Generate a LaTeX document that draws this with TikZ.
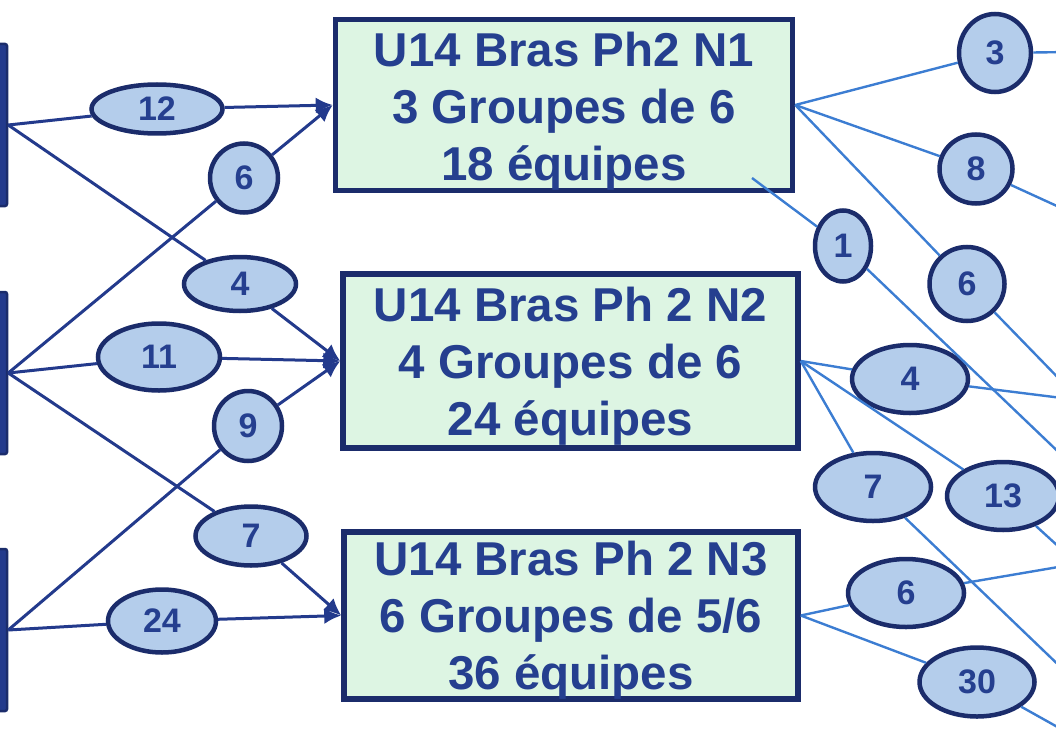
\documentclass[tikz,border=0pt]{standalone}
\usepackage{fontspec}
\setmainfont{Liberation Sans}
\usepackage{tikz}
\usepackage{xcolor}
\usetikzlibrary{shapes,arrows.meta}
\definecolor{navy}{RGB}{27,44,107}
\definecolor{ink}{RGB}{37,63,143}
\definecolor{boxgreen}{RGB}{221,245,227}
\definecolor{bubble}{RGB}{180,205,235}
\definecolor{feedblue}{RGB}{35,58,140}
\definecolor{splitblue}{RGB}{60,125,210}
\tikzstyle{block} = [rectangle, draw=navy, line width=5.5pt, fill=boxgreen,
text=ink, align=center, inner sep=0pt, font=\bfseries\fontsize{47.5}{57}\selectfont]
\tikzstyle{count} = [ellipse, draw=navy, line width=4.5pt, fill=bubble,
text=ink, inner sep=0pt, font=\bfseries\fontsize{34}{34}\selectfont]
\tikzstyle{source} = [rectangle, draw=navy, line width=2.5pt, fill=feedblue,
rounded corners=2pt, minimum width=9pt, minimum height=162pt]
\tikzstyle{feed} = [draw=feedblue, line width=3pt]
\tikzstyle{line} = [draw=feedblue, line width=3pt, -{Latex[length=17pt,width=16pt]}]
\tikzstyle{split} = [draw=splitblue, line width=2.4pt]

\begin{document}
\begin{tikzpicture}[x=1pt, y=-1pt]
        \path [use as bounding box] (0,0) rectangle (1056,738);
        \clip (0,0) rectangle (1056,738);

        \node [source] (srca) at (2.5,125) {};
        \node [source] (srcb) at (2.5,373) {};
        \node [source] (srcc) at (2.5,630) {};

        \node [block, minimum width=457pt, minimum height=163pt] (n1) at (564,105) {\rule{0pt}{47pt}U14 Bras Ph2 N1\\3 Groupes de 6\\18 équipes};
        \node [block, minimum width=455pt, minimum height=174pt] (n2) at (570.5,361) {\rule{0pt}{45pt}U14 Bras Ph 2 N2\\4 Groupes de 6\\24 équipes};
        \node [block, minimum width=454pt, minimum height=165pt] (n3) at (571,615.5) {\rule{0pt}{43pt}U14 Bras Ph 2 N3\\6 Groupes de 5/6\\36 équipes};

        % left side
        \node [count, minimum width=131pt, minimum height=49pt] (qa12) at (157,109) {12};
        \node [count, minimum width=68pt, minimum height=69pt] (qa6) at (244,178) {6};
        \node [count, minimum width=112pt, minimum height=54pt] (qa4) at (240,284) {4};
        \node [count, minimum width=122pt, minimum height=67pt] (qa11) at (159,357) {11};
        \node [count, minimum width=68pt, minimum height=70pt] (qa9) at (248,426) {9};
        \node [count, minimum width=111pt, minimum height=59pt] (qa7) at (251,536) {7};
        \node [count, minimum width=108pt, minimum height=63pt] (qa24) at (162,621) {24};

        % right side
        \node [count, minimum width=72pt, minimum height=78pt] (qb3) at (995,53) {3};
        \node [count, minimum width=73pt, minimum height=69pt] (qb8) at (976,169) {8};
        \node [count, minimum width=56pt, minimum height=71pt] (qb1) at (843,246) {1};
        \node [count, minimum width=75pt, minimum height=74pt] (qb6) at (967,284) {6};
        \node [count, minimum width=116pt, minimum height=68pt] (qb4) at (910,379) {4};
        \node [count, minimum width=116pt, minimum height=68pt] (qb7) at (873,487) {7};
        \node [count, minimum width=112pt, minimum height=68pt] (qb13) at (1003,496) {13};
        \node [count, minimum width=116pt, minimum height=68pt] (qbb6) at (906,593) {6};
        \node [count, minimum width=115pt, minimum height=69pt] (qb30) at (977,682) {30};

        \coordinate (n1in) at (752,178);
        \coordinate (o3) at (1070,52);
        \coordinate (o8) at (1070,212);
        \coordinate (o1) at (1070,463);
        \coordinate (o6) at (1070,390);
        \coordinate (o4) at (1070,399);
        \coordinate (o13) at (1070,557);
        \coordinate (o7) at (1070,676);
        \coordinate (obb6) at (1070,565);
        \coordinate (o30) at (1070,734);

        \path [feed] (srca.east) -- (qa12);
        \path [line] (qa12) -- (n1.west);
        \path [feed] (srca.east) -- (qa4);
        \path [line] (qa4) -- (n2.west);
        \path [feed] (srcb.east) -- (qa6);
        \path [line] (qa6) -- (n1.west);
        \path [feed] (srcb.east) -- (qa11);
        \path [line] (qa11) -- (n2.west);
        \path [feed] (srcb.east) -- (qa7);
        \path [line] (qa7) -- (n3.west);
        \path [feed] (srcc.east) -- (qa9);
        \path [line] (qa9) -- (n2.west);
        \path [feed] (srcc.east) -- (qa24);
        \path [line] (qa24) -- (n3.west);

        \path [split] (n1.east) -- (qb3);
        \path [split] (qb3) -- (o3);
        \path [split] (n1.east) -- (qb8);
        \path [split] (qb8) -- (o8);
        \path [split] (n1.east) -- (qb6);
        \path [split] (qb6) -- (o6);
        \path [split] (n1in) -- (qb1);
        \path [split] (qb1) -- (o1);
        \path [split] (n2.east) -- (qb4);
        \path [split] (qb4) -- (o4);
        \path [split] (n2.east) -- (qb7);
        \path [split] (qb7) -- (o7);
        \path [split] (n2.east) -- (qb13);
        \path [split] (qb13) -- (o13);
        \path [split] (n3.east) -- (qbb6);
        \path [split] (qbb6) -- (obb6);
        \path [split] (n3.east) -- (qb30);
        \path [split] (qb30) -- (o30);
      \end{tikzpicture}
\end{document}
